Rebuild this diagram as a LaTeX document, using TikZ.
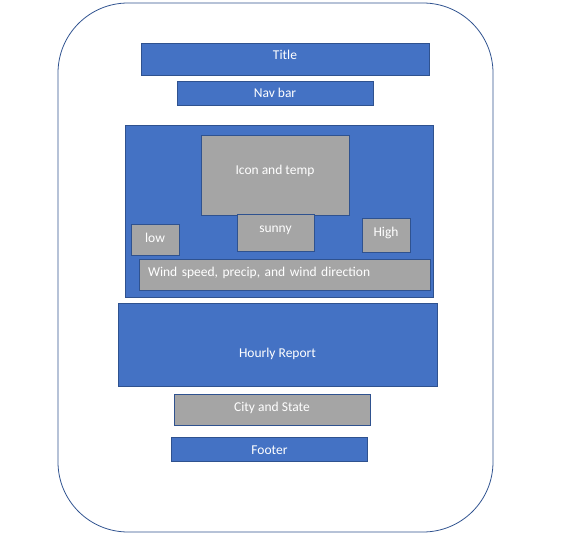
\documentclass[tikz,border=0pt]{standalone}
\usepackage{fontspec}
\setmainfont{Carlito}
\definecolor{bleu}{HTML}{4472C4}
\definecolor{bord}{HTML}{2F528F}
\definecolor{gris}{HTML}{A5A5A5}
\begin{document}
\begin{tikzpicture}[x=1pt, y=-1pt]
			\tikzset{bloc/.style={rectangle, draw=bord, fill=bleu, text=white, font=\fontsize{13.5}{16}\selectfont, inner sep=0pt, line width=0.8pt, text height=10pt},
				case/.style={bloc, fill=gris}};

			\useasboundingbox (0,0) rectangle (563,540);

			\node[draw=bord, line width=0.8pt, rounded corners=70pt, minimum width=435pt, minimum height=529pt] (cadre) at (275.5, 267.5) {};

			\node[bloc, minimum width=288pt, minimum height=32pt, text depth=9pt] (titre) at (  285,   59) {Title};
			\node[bloc, minimum width=196pt, minimum height=24pt, text depth=1pt] (nav)   at (  275,   93) {Nav bar};
			\node[bloc, minimum width=308pt, minimum height=172pt] (meteo) at ( 279,  211) {};

			\node[case, minimum width=148pt, minimum height=80pt, text depth=11pt] (icone) at (275, 175) {Icon and temp};
			\node[case, minimum width=77pt, minimum height=37pt, text depth=10pt] (ciel) at (275.5, 232.5) {sunny};
			\node[case, minimum width=48pt, minimum height=31pt, text depth=4pt] (bas)  at (155, 239.5) {low};
			\node[case, minimum width=48pt, minimum height=34pt, text depth=7pt] (haut) at (386, 235) {High};
			\node[case, minimum width=291pt, minimum height=31pt, text width=273pt, align=left, inner xsep=9pt, text depth=6pt] (vent) at (284.5, 274.5) {Wind speed, precip, and wind direction};

			\node[bloc, minimum width=319pt, minimum height=83pt, text height=27pt, text depth=1pt] (heure) at (277.5, 344.5) {Hourly Report};
			\node[case, minimum width=196pt, minimum height=31pt, text depth=6pt] (ville) at (272, 409.5) {City and State};
			\node[bloc, minimum width=196pt, minimum height=24pt, text height=12pt, text depth=1pt] (pied) at (269.5, 449) {Footer};
		\end{tikzpicture}
\end{document}
